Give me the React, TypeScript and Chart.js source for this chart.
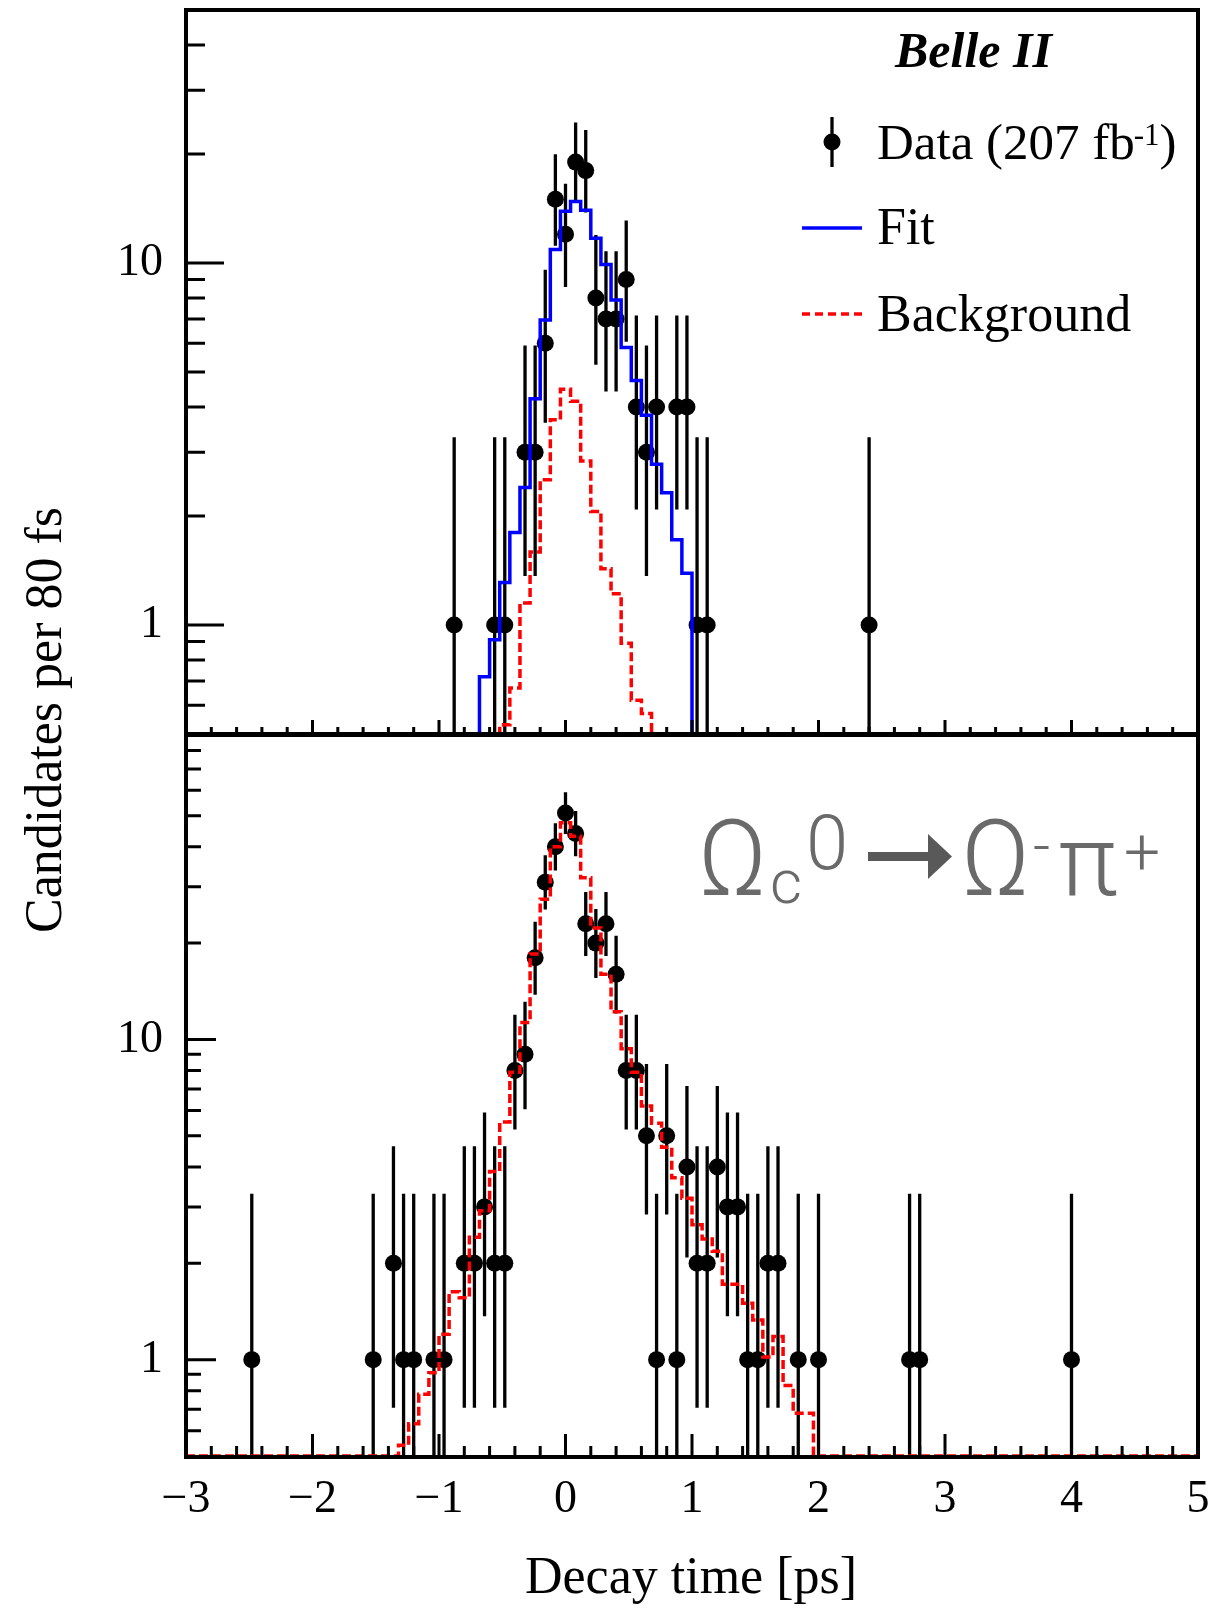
import React, { useEffect, useRef } from "react";
import { Chart, registerables } from "chart.js";

Chart.register(...registerables);

// ---------------- data ----------------
const X_MIN = -3;
const X_MAX = 5;
const BIN_WIDTH = 0.08;

const TOP_Y_MIN = 0.5;
const TOP_Y_MAX = 50;
const BOT_Y_MIN = 0.5;
const BOT_Y_MAX = 90;

const Y_LABEL_VALUES = [1, 10];
const X_LABEL_VALUES = [-3, -2, -1, 0, 1, 2, 3, 4, 5];

// top panel: data (bin centres, counts)
const TOP_DATA_T = [-0.88, -0.56, -0.48, -0.32, -0.24, -0.16, -0.08, 0, 0.08, 0.16, 0.24, 0.32, 0.4, 0.48, 0.56, 0.64, 0.72, 0.88, 0.96, 1.04, 1.12, 2.4];
const TOP_DATA_N = [1, 1, 1, 3, 3, 6, 15, 12, 19, 18, 8, 7, 7, 9, 4, 3, 4, 4, 4, 1, 1, 1];

// top panel: fit histogram (first bin starts at TOP_FIT_START)
const TOP_FIT_START = -0.68;
const TOP_FIT = [0.72, 0.91, 1.31, 1.8, 2.4, 4.22, 6.96, 10.9, 13.9, 14.8, 14.0, 11.7, 9.9, 7.9, 5.84, 4.74, 3.8, 2.78, 2.32, 1.72, 1.39];

// top panel: background histogram
const TOP_BKG_START = -0.52;
const TOP_BKG = [0.53, 0.67, 1.15, 1.59, 2.52, 3.69, 4.48, 4.15, 2.84, 2.06, 1.43, 1.22, 0.89, 0.62, 0.57];

// bottom panel: data
const BOT_DATA_T = [-2.48, -1.52, -1.36, -1.28, -1.2, -1.04, -0.96, -0.8, -0.72, -0.64, -0.56, -0.48, -0.4, -0.32, -0.24, -0.16, -0.08, 0, 0.08, 0.16, 0.24, 0.32, 0.4, 0.48, 0.56, 0.64, 0.72, 0.8, 0.88, 0.96, 1.04, 1.12, 1.2, 1.28, 1.36, 1.44, 1.52, 1.6, 1.68, 1.84, 2.0, 2.72, 2.8, 4.0];
const BOT_DATA_N = [1, 1, 2, 1, 1, 1, 1, 2, 2, 3, 2, 2, 8, 9, 18, 31, 40, 51, 44, 23, 20, 23, 16, 8, 8, 5, 1, 5, 1, 4, 2, 2, 4, 3, 3, 1, 1, 2, 2, 1, 1, 1, 1, 1];

// bottom panel: red dashed histogram
const BOT_BKG_START = -1.32;
const BOT_BKG = [0.54, 0.63, 0.78, 0.91, 1.2, 1.63, 1.56, 2.41, 2.92, 3.87, 5.52, 7.9, 11.3, 18.5, 27.4, 40.0, 47.5, 43.1, 32.0, 22.3, 16.0, 12.2, 9.36, 7.9, 6.2, 5.47, 4.61, 3.7, 3.19, 2.64, 2.38, 2.18, 1.72, 1.72, 1.5, 1.33, 1.02, 1.18, 0.83, 0.68, 0.68];

// Garwood (68.27%) Poisson intervals for the counts used
const GARWOOD: Record<number, [number, number]> = {
  1: [0.173, 3.3],
  2: [0.708, 4.638],
  3: [1.367, 5.918],
  4: [2.086, 7.163],
  5: [2.84, 8.382],
  6: [3.62, 9.584],
  7: [4.419, 10.77],
  8: [5.232, 11.95],
  9: [6.057, 13.11],
  12: [8.584, 16.56],
  15: [11.17, 19.96],
  16: [12.05, 21.08],
  18: [13.8, 23.32],
  19: [14.68, 24.44],
  20: [15.57, 25.55],
  23: [18.23, 28.87],
  31: [25.45, 37.63],
  40: [33.69, 47.38],
  44: [37.39, 51.69],
  51: [43.88, 59.19],
};

// ---------------- layout ----------------
const W = 1228;
const H = 1613;
const PLOT_LEFT = 186;
const PLOT_RIGHT = 1198;
const TOP_PANEL = { top: 10, bottom: 734 };
const BOT_PANEL = { top: 734, bottom: 1456 };
const SERIF = "'Liberation Serif', 'Times New Roman', Times, serif";
const SANS_LIGHT = "Roboto, 'Open Sans', Lato, sans-serif";

function stepPoints(start: number, values: number[], yMin: number) {
  const nBins = Math.round((X_MAX - X_MIN) / BIN_WIDTH);
  const startIdx = Math.round((start - X_MIN) / BIN_WIDTH);
  const pts: { x: number; y: number }[] = [];
  for (let i = 0; i < nBins; i++) {
    const j = i - startIdx;
    const v = j >= 0 && j < values.length ? values[j] : 0;
    const y = Math.max(v, yMin);
    const x0 = X_MIN + i * BIN_WIDTH;
    pts.push({ x: x0, y }, { x: x0 + BIN_WIDTH, y });
  }
  return pts;
}

function drawErrorBars(chart: any) {
  const { ctx, chartArea: a, scales } = chart;
  const ys = scales.y;
  ctx.save();
  ctx.beginPath();
  ctx.rect(a.left, a.top, a.right - a.left, a.bottom - a.top);
  ctx.clip();
  ctx.strokeStyle = "#000";
  ctx.lineWidth = 3.3;
  ctx.beginPath();
  chart.data.datasets.forEach((ds: any, i: number) => {
    if (!ds.isData) return;
    const meta = chart.getDatasetMeta(i);
    meta.data.forEach((pt: any, j: number) => {
      const n = ds.data[j].y;
      const iv = GARWOOD[n];
      if (!iv) return;
      const lo = Math.max(iv[0], ys.min);
      const y1 = ys.getPixelForValue(lo);
      const y2 = ys.getPixelForValue(iv[1]);
      ctx.moveTo(pt.x, y1);
      ctx.lineTo(pt.x, y2);
    });
  });
  ctx.stroke();
  ctx.restore();
}

function drawFrame(chart: any, t: { xMajor: number; xMinor: number; yMajor: number; yMinor: number; yMin: number; yMax: number }) {
  const { ctx, chartArea: a, scales } = chart;
  const xs = scales.x;
  const ys = scales.y;
  ctx.save();
  ctx.strokeStyle = "#000";
  ctx.lineWidth = 3;
  ctx.beginPath();
  const nx = Math.round((X_MAX - X_MIN) / 0.2);
  for (let k = 0; k <= nx; k++) {
    const v = X_MIN + k * 0.2;
    const px = xs.getPixelForValue(v);
    const len = k % 5 === 0 ? t.xMajor : t.xMinor;
    ctx.moveTo(px, a.bottom);
    ctx.lineTo(px, a.bottom - len);
  }
  for (let d = -1; d <= 1; d++) {
    for (let m = 1; m <= 9; m++) {
      const v = m * Math.pow(10, d);
      if (v <= t.yMin * 1.0001 || v >= t.yMax * 0.9999) continue;
      const py = ys.getPixelForValue(v);
      const len = m === 1 ? t.yMajor : t.yMinor;
      ctx.moveTo(a.left, py);
      ctx.lineTo(a.left + len, py);
    }
  }
  ctx.stroke();
  ctx.lineWidth = 4;
  ctx.strokeRect(a.left, a.top, a.right - a.left, a.bottom - a.top + 1);
  ctx.restore();
}

const topPlugin = {
  id: "topPanel",
  beforeDatasetsDraw(chart: any) {
    drawErrorBars(chart);
  },
  afterDraw(chart: any) {
    drawFrame(chart, { xMajor: 14, xMinor: 7, yMajor: 38, yMinor: 19, yMin: TOP_Y_MIN, yMax: TOP_Y_MAX });
    const ctx = chart.ctx;
    ctx.save();
    ctx.fillStyle = "#000";
    ctx.textAlign = "left";
    ctx.textBaseline = "alphabetic";
    // Belle II
    ctx.font = `italic bold 50px ${SERIF}`;
    ctx.fillText("Belle II", 895, 67);
    // legend: data
    ctx.strokeStyle = "#000";
    ctx.lineWidth = 3.3;
    ctx.beginPath();
    ctx.moveTo(832, 117);
    ctx.lineTo(832, 167);
    ctx.stroke();
    ctx.beginPath();
    ctx.arc(832, 142, 8.5, 0, Math.PI * 2);
    ctx.fill();
    ctx.font = `51px ${SERIF}`;
    const base = "Data (207 fb";
    ctx.fillText(base, 877, 159);
    const w1 = ctx.measureText(base).width;
    ctx.font = `31px ${SERIF}`;
    ctx.fillText("-1", 877 + w1 - 1, 145);
    const w2 = ctx.measureText("-1").width;
    ctx.font = `51px ${SERIF}`;
    ctx.fillText(")", 877 + w1 + w2 - 1, 159);
    ctx.font = `52px ${SERIF}`;
    // legend: fit
    ctx.strokeStyle = "#0000ff";
    ctx.lineWidth = 3.3;
    ctx.beginPath();
    ctx.moveTo(802, 228);
    ctx.lineTo(862, 228);
    ctx.stroke();
    ctx.fillText("Fit", 877, 244);
    // legend: background
    ctx.strokeStyle = "#ff0000";
    ctx.setLineDash([8, 5]);
    ctx.beginPath();
    ctx.moveTo(802, 314);
    ctx.lineTo(862, 314);
    ctx.stroke();
    ctx.setLineDash([]);
    ctx.fillText("Background", 877, 331);
    // y title
    ctx.translate(47, 720);
    ctx.rotate(-Math.PI / 2);
    ctx.textAlign = "center";
    ctx.textBaseline = "middle";
    ctx.font = `52px ${SERIF}`;
    ctx.fillText("Candidates per 80 fs", 0, 0);
    ctx.restore();
  },
};

const botPlugin = {
  id: "botPanel",
  beforeDatasetsDraw(chart: any) {
    drawErrorBars(chart);
  },
  afterDraw(chart: any) {
    drawFrame(chart, { xMajor: 22, xMinor: 10, yMajor: 30, yMinor: 15, yMin: BOT_Y_MIN, yMax: BOT_Y_MAX });
    const ctx = chart.ctx;
    ctx.save();
    // x title
    ctx.fillStyle = "#000";
    ctx.textAlign = "center";
    ctx.textBaseline = "alphabetic";
    ctx.font = `52px ${SERIF}`;
    ctx.fillText("Decay time [ps]", 691, 1593);
    // decay label
    ctx.textAlign = "left";
    ctx.fillStyle = "#6a6a6a";
    ctx.font = `300 106px ${SANS_LIGHT}`;
    ctx.fillText("Ω", 698, 895);
    ctx.font = `300 62px ${SANS_LIGHT}`;
    ctx.fillText("c", 770, 903);
    ctx.font = `300 76px ${SANS_LIGHT}`;
    ctx.fillText("0", 806, 869);
    ctx.fillStyle = "#595959";
    ctx.fillRect(868, 852, 62, 9);
    ctx.beginPath();
    ctx.moveTo(928, 834);
    ctx.lineTo(952, 856.5);
    ctx.lineTo(928, 879);
    ctx.closePath();
    ctx.fill();
    ctx.fillStyle = "#6a6a6a";
    ctx.font = `300 106px ${SANS_LIGHT}`;
    ctx.fillText("Ω", 961, 895);
    ctx.font = `300 60px ${SANS_LIGHT}`;
    ctx.fillText("-", 1033, 866);
    ctx.font = `300 100px ${SANS_LIGHT}`;
    ctx.fillText("π", 1058, 895);
    ctx.font = `300 64px ${SANS_LIGHT}`;
    ctx.fillText("+", 1124, 874);
    ctx.restore();
  },
};

function yScale(min: number, max: number) {
  return {
    type: "logarithmic" as const,
    position: "left" as const,
    min,
    max,
    afterFit: (s: any) => {
      s.width = PLOT_LEFT;
      s.paddingTop = 0;
      s.paddingBottom = 0;
    },
    afterBuildTicks: (s: any) => {
      s.ticks = Y_LABEL_VALUES.map((v) => ({ value: v }));
    },
    ticks: {
      callback: (v: any) => String(v),
      font: { family: SERIF, size: 46 },
      color: "#000",
      padding: 23,
      autoSkip: false,
    },
    grid: { display: false, drawTicks: false, tickLength: 0 },
    border: { display: false },
  };
}

function dataDataset(ts: number[], ns: number[]) {
  return {
    label: "Data",
    isData: true,
    data: ts.map((t, i) => ({ x: t, y: ns[i] })),
    showLine: false,
    pointRadius: 8.5,
    pointHoverRadius: 8.5,
    pointBackgroundColor: "#000",
    pointBorderWidth: 0,
  } as any;
}

function histDataset(label: string, start: number, values: number[], yMin: number, color: string, dash: number[]) {
  return {
    label,
    data: stepPoints(start, values, yMin),
    showLine: true,
    borderColor: color,
    borderWidth: 3.5,
    borderDash: dash,
    pointRadius: 0,
    pointHoverRadius: 0,
    fill: false,
    tension: 0,
  } as any;
}

export default function App() {
  const topRef = useRef<HTMLCanvasElement>(null);
  const botRef = useRef<HTMLCanvasElement>(null);

  useEffect(() => {
    const common = {
      animation: false as const,
      responsive: false,
      devicePixelRatio: 1,
      events: [] as any[],
      plugins: { legend: { display: false }, tooltip: { enabled: false } },
    };
    const top = new Chart(topRef.current as HTMLCanvasElement, {
      type: "scatter",
      data: {
        datasets: [
          histDataset("Background", TOP_BKG_START, TOP_BKG, TOP_Y_MIN, "#ff0000", [9, 4]),
          histDataset("Fit", TOP_FIT_START, TOP_FIT, TOP_Y_MIN, "#0000ff", []),
          dataDataset(TOP_DATA_T, TOP_DATA_N),
        ],
      },
      options: {
        ...common,
        layout: { padding: { left: 0, right: W - PLOT_RIGHT, top: TOP_PANEL.top, bottom: H - TOP_PANEL.bottom } },
        scales: {
          x: { type: "linear", min: X_MIN, max: X_MAX, display: false },
          y: yScale(TOP_Y_MIN, TOP_Y_MAX),
        },
      } as any,
      plugins: [topPlugin],
    });
    const bot = new Chart(botRef.current as HTMLCanvasElement, {
      type: "scatter",
      data: {
        datasets: [
          histDataset("Background", BOT_BKG_START, BOT_BKG, BOT_Y_MIN, "#ff0000", [9, 4]),
          dataDataset(BOT_DATA_T, BOT_DATA_N),
        ],
      },
      options: {
        ...common,
        layout: { padding: { left: 0, right: W - PLOT_RIGHT, top: BOT_PANEL.top, bottom: 0 } },
        scales: {
          x: {
            type: "linear",
            position: "bottom",
            min: X_MIN,
            max: X_MAX,
            afterFit: (s: any) => {
              s.height = H - BOT_PANEL.bottom;
              s.paddingLeft = 0;
              s.paddingRight = 0;
            },
            afterBuildTicks: (s: any) => {
              s.ticks = X_LABEL_VALUES.map((v) => ({ value: v }));
            },
            ticks: {
              callback: (v: any) => (v < 0 ? "\u2212" + Math.abs(v) : String(v)),
              font: { family: SERIF, size: 46 },
              color: "#000",
              padding: 16,
              autoSkip: false,
              maxRotation: 0,
              minRotation: 0,
            },
            grid: { display: false, drawTicks: false, tickLength: 0 },
            border: { display: false },
          },
          y: yScale(BOT_Y_MIN, BOT_Y_MAX),
        },
      } as any,
      plugins: [botPlugin],
    });
    return () => {
      top.destroy();
      bot.destroy();
    };
  }, []);

  return (
    <div style={{ position: "absolute", left: 0, top: 0, width: W, height: H, background: "#fff" }}>
      <canvas ref={topRef} width={W} height={H} style={{ position: "absolute", left: 0, top: 0, width: W, height: H }} />
      <canvas ref={botRef} width={W} height={H} style={{ position: "absolute", left: 0, top: 0, width: W, height: H }} />
    </div>
  );
}
